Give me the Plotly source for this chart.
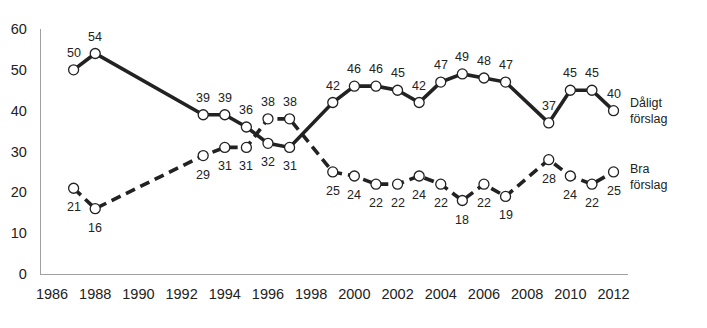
import plotly.graph_objects as go

years = [1987, 1988, 1993, 1994, 1995, 1996, 1997, 1999, 2000, 2001, 2002, 2003,
         2004, 2005, 2006, 2007, 2009, 2010, 2011, 2012]
daligt = [50, 54, 39, 39, 36, 32, 31, 42, 46, 46, 45, 42, 47, 49, 48, 47, 37, 45, 45, 40]
bra = [21, 16, 29, 31, 31, 38, 38, 25, 24, 22, 22, 24, 22, 18, 22, 19, 28, 24, 22, 25]
x_ticks = list(range(1986, 2013, 2))
y_ticks = [0, 10, 20, 30, 40, 50, 60]

TXT = "#222222"
FONT = "Liberation Sans, Arial, sans-serif"

d_below = {1996, 1997}
b_above = {1996, 1997}

fig = go.Figure()
fig.add_trace(go.Scatter(
    x=years, y=bra, mode="lines+markers",
    line=dict(color="#222222", width=3.6, dash="10px,6px"),
    marker=dict(size=10, color="white", line=dict(color="#222222", width=1.3)),
    cliponaxis=False, showlegend=False))
fig.add_trace(go.Scatter(
    x=years, y=daligt, mode="lines+markers",
    line=dict(color="#222222", width=3.6),
    marker=dict(size=10, color="white", line=dict(color="#222222", width=1.3)),
    cliponaxis=False, showlegend=False))

for yr, v in zip(years, daligt):
    up = yr not in d_below
    fig.add_annotation(x=yr, y=v, xref="x", yref="y", text=str(v), showarrow=False,
                       yshift=17 if up else -19, xanchor="center", yanchor="middle",
                       font=dict(size=12.5, color=TXT, family=FONT))
for yr, v in zip(years, bra):
    up = yr in b_above
    fig.add_annotation(x=yr, y=v, xref="x", yref="y", text=str(v), showarrow=False,
                       yshift=17 if up else -19, xanchor="center", yanchor="middle",
                       font=dict(size=12.5, color=TXT, family=FONT))

fig.add_annotation(x=years[-1], y=daligt[-1], xref="x", yref="y", xshift=14,
                   text="Dåligt<br>förslag", showarrow=False, xanchor="left",
                   yanchor="middle", align="left",
                   font=dict(size=12.5, color=TXT, family=FONT))
fig.add_annotation(x=years[-1], y=bra[-1], xref="x", yref="y", xshift=14, yshift=-5,
                   text="Bra<br>förslag", showarrow=False, xanchor="left",
                   yanchor="middle", align="left",
                   font=dict(size=12.5, color=TXT, family=FONT))

fig.update_layout(
    width=707, height=328,
    margin=dict(l=41, r=79, t=29, b=54),
    plot_bgcolor="white", paper_bgcolor="white",
    font=dict(family=FONT, size=14, color=TXT),
    xaxis=dict(range=[1985.49, 2012.67], tickvals=x_ticks, showgrid=False,
               zeroline=False, showline=True, linecolor="#a0a0a0", linewidth=1.3,
               ticks="outside", ticklen=6, tickcolor="rgba(0,0,0,0)",
               tickfont=dict(size=14.5, color=TXT)),
    yaxis=dict(range=[0, 60], tickvals=y_ticks, showgrid=False, zeroline=False,
               showline=True, linecolor="#a0a0a0", linewidth=1.3,
               ticks="outside", ticklen=10, tickcolor="rgba(0,0,0,0)",
               tickfont=dict(size=14.5, color=TXT)),
)

fig.write_html("out.html")
